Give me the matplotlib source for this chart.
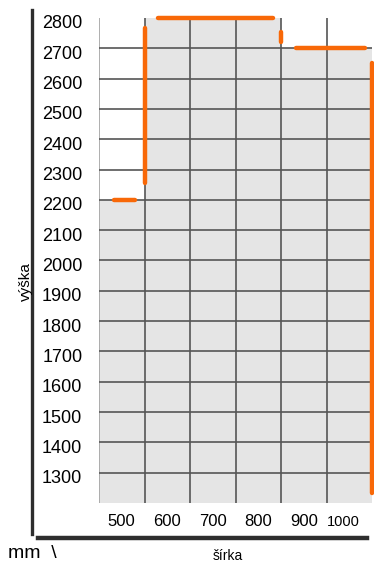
import matplotlib.pyplot as plt
from matplotlib.transforms import ScaledTranslation

plt.rcParams["font.family"] = ["Liberation Sans", "DejaVu Sans"]

# door size range: width cells and the max height allowed in each
width_ticks = [500, 600, 700, 800, 900, 1000]
width_labels = ["500", "600", "700", "800", "900", "1000"]
height_ticks = list(range(1300, 2900, 100))
grid_widths = [550, 650, 750, 850, 950]
grid_heights = list(range(1300, 2800, 100))
cell_edges = [450, 550, 850, 1050]
max_height = [2200, 2800, 2700]
min_height = 1200

# orange limit strokes: (x start, x end, y start, y end)
limit_x0 = [484, 550, 580, 850, 884, 1050]
limit_x1 = [530, 550, 833, 850, 1034, 1050]
limit_y0 = [2200, 2256, 2800, 2755, 2700, 1232]
limit_y1 = [2200, 2768, 2800, 2722, 2700, 2650]

fig = plt.figure(figsize=(3.74, 5.63), dpi=100)
ax = fig.add_axes([99 / 374, 60 / 563, 273 / 374, 485 / 563])

# grey allowed area as steps
xs, ys = [], []
for i, h in enumerate(max_height):
    xs += [cell_edges[i], cell_edges[i + 1]]
    ys += [h, h]
ax.fill_between(xs, min_height, ys, color="#e5e5e5", lw=0, zorder=0)

# full grid
ax.axvline(cell_edges[0], color="#a8a8a8", lw=1.3, zorder=1)
for x in grid_widths:
    ax.axvline(x, color="#555555", lw=1.2, zorder=1)
for y in grid_heights:
    ax.axhline(y, color="#555555", lw=1.2, zorder=1)

for a, b, c, d in zip(limit_x0, limit_x1, limit_y0, limit_y1):
    ax.plot([a, b], [c, d], color="#f86808", lw=3.2, solid_capstyle="round",
            zorder=3, clip_on=False)

ax.set_xlim(450, 1050)
ax.set_ylim(min_height, 2800)
for s in ax.spines.values():
    s.set_visible(False)
ax.set_facecolor("none")

ax.set_yticks(height_ticks)
ax.set_yticklabels([str(v) for v in height_ticks], fontsize=13)
ax.tick_params(axis="y", length=0, pad=12)
down = ScaledTranslation(0, -4 / 100, fig.dpi_scale_trans)
for lab in ax.get_yticklabels():
    lab.set_transform(lab.get_transform() + down)

ax.set_xticks(width_ticks)
ax.set_xticklabels(width_labels)
ax.tick_params(axis="x", length=0, pad=8, labelsize=12)
last = ax.get_xticklabels()[-1]
last.set_fontsize(10.5)
last.set_transform(last.get_transform()
                   + ScaledTranslation(-6 / 100, -1 / 100, fig.dpi_scale_trans))

# heavy frame lines left and bottom
fig.add_artist(plt.Line2D([32 / 374, 32 / 374], [1 - 10 / 563, 1 - 534 / 563],
                          color="#2e2e2e", lw=2.4))
fig.add_artist(plt.Line2D([38 / 374, 367 / 374], [1 - 537.5 / 563, 1 - 537.5 / 563],
                          color="#2e2e2e", lw=3.2))

fig.text(26 / 374, 1 - 282 / 563, "výška", rotation=90, fontsize=11,
         ha="center", va="center")
fig.text(228 / 374, 1 - 556 / 563, "šírka", fontsize=10,
         ha="center", va="center")
fig.text(8 / 374, 1 - 553 / 563, "mm  \\", fontsize=14,
         ha="left", va="center")

fig.savefig("out.png", dpi=100)
